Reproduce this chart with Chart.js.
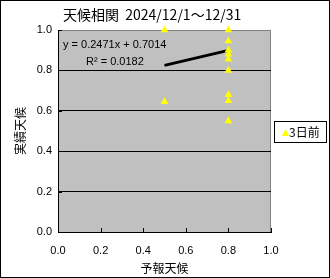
<!DOCTYPE html>
<html>
<head>
<meta charset="utf-8">
<script src="https://cdn.jsdelivr.net/npm/chart.js@4"></script>
<style>
  html, body { margin: 0; padding: 0; background: #fff; }
  #wrap { width: 330px; height: 278px; position: relative; }
</style>
</head>
<body>
<div id="wrap"><canvas id="tenko" width="330" height="278"></canvas></div>
<script>
// 予報天候 (x) と 実績天候 (y)
const forecast = [0.5, 0.5, 0.8, 0.8, 0.8, 0.8, 0.8, 0.8, 0.8, 0.8, 0.8];
const actual   = [1.0, 0.645, 1.0, 0.945, 0.9, 0.88, 0.855, 0.8, 0.68, 0.65, 0.55];
const slope = 0.2471;
const intercept = 0.7014;
const trendX = [0.5, 0.8];
const axisTicks = [0, 0.2, 0.4, 0.6, 0.8, 1.0];

const jp = "'Noto Sans CJK JP', 'DejaVu Sans', sans-serif";

const points = forecast.map((x, i) => ({ x: x, y: actual[i] }));
const trend = trendX.map(x => ({ x: x, y: slope * x + intercept }));

const plotBg = {
  id: "plotBg",
  beforeDraw(chart) {
    const c = chart.ctx, a = chart.chartArea;
    c.save();
    c.fillStyle = "#fff";
    c.fillRect(0, 0, chart.width, chart.height);
    c.fillStyle = "#c0c0c0";
    c.fillRect(a.left, a.top, a.right - a.left, a.bottom - a.top);
    c.strokeStyle = "#808080";
    c.lineWidth = 1;
    c.strokeRect(a.left + 0.5, a.top + 0.5, a.right - a.left - 1, a.bottom - a.top);
    c.restore();
  },
  afterDraw(chart) {
    const c = chart.ctx, a = chart.chartArea;
    const xs = chart.scales.x, ys = chart.scales.y;
    c.save();
    c.strokeStyle = "#000";
    c.lineWidth = 1;
    c.beginPath();
    axisTicks.forEach(v => {
      const px = Math.round(xs.getPixelForValue(v)) + 0.5;
      c.moveTo(px, a.bottom);
      c.lineTo(px, a.bottom - 4);
      const py = Math.round(ys.getPixelForValue(v)) + 0.5;
      c.moveTo(a.left, py);
      c.lineTo(a.left + 4, py);
    });
    c.stroke();
    // outer frame
    c.strokeRect(0.5, 0.5, chart.width - 1, chart.height - 1);
    // title
    c.fillStyle = "#000";
    c.font = "14px " + jp;
    c.textBaseline = "middle";
    c.textAlign = "left";
    c.fillText("天候相関  2024/12/1～12/31", 63, 15);
    // equation
    c.font = "11px 'Liberation Sans', Arial, sans-serif";
    c.fillText("y = 0.2471x + 0.7014", 63, 45);
    c.fillText("R² = 0.0182", 86, 62);
    // legend
    c.fillStyle = "#fff";
    c.fillRect(274, 121, 53, 22);
    c.strokeRect(274.5, 121.5, 52, 21);
    c.fillStyle = "#ffff00";
    c.beginPath();
    c.moveTo(282, 136);
    c.lineTo(289, 136);
    c.lineTo(285.5, 129);
    c.closePath();
    c.fill();
    c.fillStyle = "#000";
    c.font = "12px " + jp;
    c.fillText("3日前", 289, 132.5);
    c.restore();
  }
};

new Chart(document.getElementById("tenko"), {
  type: "scatter",
  data: {
    datasets: [
      {
        label: "線形近似",
        type: "line",
        data: trend,
        borderColor: "#000",
        borderWidth: 3,
        pointRadius: 0,
        fill: false,
        order: 2
      },
      {
        label: "3日前",
        data: points,
        pointStyle: "triangle",
        pointRadius: 4.5,
        backgroundColor: "#ffff00",
        borderColor: "#ffff00",
        borderWidth: 0,
        clip: false,
        order: 1
      }
    ]
  },
  plugins: [plotBg],
  options: {
    responsive: false,
    animation: false,
    layout: { padding: { top: 30, right: 59, left: 0, bottom: 0 } },
    plugins: {
      legend: { display: false },
      tooltip: { enabled: false }
    },
    scales: {
      x: {
        type: "linear",
        min: 0,
        max: 1,
        afterFit: s => { s.height = 46; },
        afterBuildTicks: s => { s.ticks = axisTicks.map(v => ({ value: v })); },
        border: { color: "#000", width: 1 },
        grid: { display: false },
        ticks: {
          color: "#000",
          padding: 4,
          font: { size: 11, family: "'Liberation Sans', Arial, sans-serif" },
          callback: v => v.toFixed(1)
        },
        title: {
          display: true,
          text: "予報天候",
          color: "#000",
          padding: { top: 0, bottom: 2 },
          font: { size: 12, family: jp }
        }
      },
      y: {
        type: "linear",
        min: 0,
        max: 1,
        afterFit: s => { s.width = 58; },
        afterBuildTicks: s => { s.ticks = axisTicks.map(v => ({ value: v })); },
        border: { color: "#000", width: 1 },
        grid: {
          color: "#000",
          drawTicks: false,
          lineWidth: ctx => (ctx.tick && (ctx.tick.value === 0 || ctx.tick.value === 1)) ? 0 : 1
        },
        ticks: {
          color: "#000",
          padding: 6,
          font: { size: 11, family: "'Liberation Sans', Arial, sans-serif" },
          callback: v => v.toFixed(1)
        },
        title: {
          display: true,
          text: "実績天候",
          color: "#000",
          padding: { top: 13, bottom: 0 },
          font: { size: 12, family: jp }
        }
      }
    }
  }
});
</script>
</body>
</html>
